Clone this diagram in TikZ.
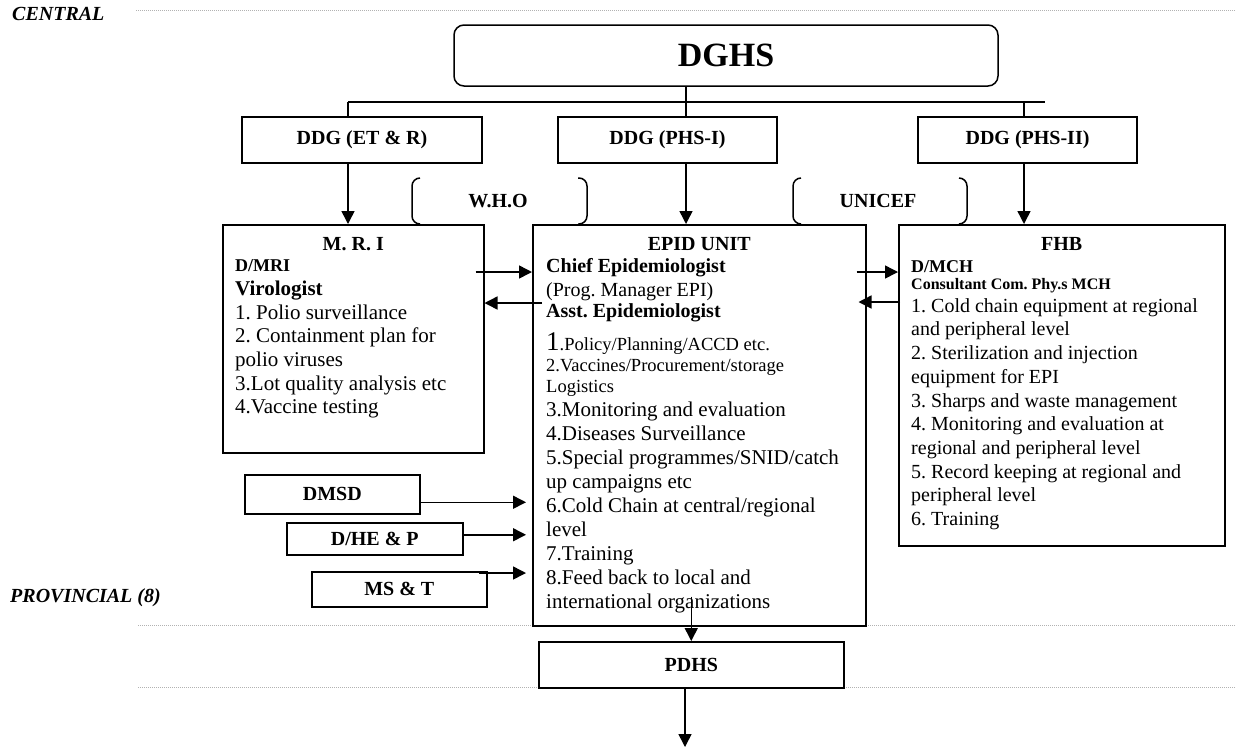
\documentclass[tikz,border=0pt]{standalone}
\usepackage{fontspec}
\setmainfont{Liberation Serif}
\frenchspacing
\usepackage{tikz}
\usetikzlibrary{positioning,arrows.meta,calc}
\tikzset{
    unit box/.style={rectangle, draw, line width=1.5pt, inner sep=0pt, font=\bfseries\fontsize{20}{24}\selectfont},
    top box/.style={unit box, rounded corners=10pt, font=\bfseries\fontsize{34}{40}\selectfont},
    panel/.style={rectangle, draw, line width=1.5pt, inner sep=0pt},
    unit label/.style={inner sep=0pt, font=\bfseries\fontsize{20}{24}\selectfont},
    item block/.style={inner sep=0pt, anchor=north west, align=left},
    level label/.style={inner sep=0pt, anchor=west, font=\bfseries\itshape\fontsize{20}{24}\selectfont},
    level line/.style={draw=gray!60, line width=0.8pt, dash pattern=on 0.8pt off 1.2pt},
    link line/.style={line width=1.5pt},
    bracket/.style={line width=1.5pt, rounded corners=8pt},
    flow arrow/.style={line width=1.5pt, -{Triangle[length=13pt,width=13pt]}}
}
\begin{document}
\begin{tikzpicture}[x=1pt,y=-1pt]
\useasboundingbox (0,0) rectangle (1236,748);

% levels
\draw[level line] (136,10) -- (1236,10);
\draw[level line] (138,625) -- (1236,625);
\draw[level line] (138,687) -- (1236,687);
\node[level label] (central) at (12,14) {CENTRAL};
\node[level label] (provincial) at (10,598) {PROVINCIAL (8)};

% top
\node[top box, minimum width=544pt, minimum height=61pt] (dghs) at (726,55.5) {DGHS};
\node[unit box, minimum width=240pt, minimum height=46pt] (ddgetr) at (362,140) {DDG (ET \& R)};
\node[unit box, minimum width=219pt, minimum height=46pt] (ddgphsone) at (667.5,140) {DDG (PHS-I)};
\node[unit box, minimum width=219pt, minimum height=46pt] (ddgphstwo) at (1027.5,140) {DDG (PHS-II)};

\coordinate (busleft) at (348,102);
\coordinate (busright) at (1045,102);
\coordinate (trunk) at (686,102);
\coordinate (rightdrop) at (1024,102);
\draw[link line] (busleft) -- (busright);
\draw[link line] (busleft) -- (ddgetr.north -| busleft);
\draw[link line] (dghs.south -| trunk) -- (ddgphsone.north -| trunk);
\draw[link line] (rightdrop) -- (ddgphstwo.north -| rightdrop);

% units
\node[panel, minimum width=261pt, minimum height=228pt, anchor=north west] (mri) at (222,224) {};
\node[panel, minimum width=333pt, minimum height=401pt, anchor=north west] (epid) at (532,224) {};
\node[panel, minimum width=326pt, minimum height=321pt, anchor=north west] (fhb) at (898,224) {};

\draw[flow arrow] (ddgetr.south -| busleft) -- (mri.north -| busleft);
\draw[flow arrow] (ddgphsone.south -| trunk) -- (epid.north -| trunk);
\draw[flow arrow] (ddgphstwo.south -| rightdrop) -- (fhb.north -| rightdrop);

% partners
\node[unit label] (who) at (498,201) {W.H.O};
\draw[bracket] (420,178) -- (412,178) -- (412,224) -- (420,224);
\draw[bracket] (578,178) -- (587,178) -- (587,224) -- (578,224);
\node[unit label] (unicef) at (878,201) {UNICEF};
\draw[bracket] (801,178) -- (793,178) -- (793,224) -- (801,224);
\draw[bracket] (959,178) -- (967,178) -- (967,224) -- (959,224);

% M.R.I
\node[unit label, below=13pt of mri.north] (mrititle) {M. R. I};
\node[item block, font=\fontsize{21}{23.7}\selectfont] (mrilist) at (235,259.6) {%
{\bfseries\fontsize{18}{23.7}\selectfont D/MRI}\\
{\bfseries Virologist}\\
1. Polio surveillance\\
2. Containment plan for\\
polio viruses\\
3.Lot quality analysis etc\\
4.Vaccine testing};

% EPID unit
\node[unit label, below=13pt of epid.north] (epidtitle) {EPID UNIT};
\node[item block, font=\fontsize{21}{24}\selectfont] (epidlist) at (546,258) {%
{\bfseries\fontsize{20}{24}\selectfont Chief Epidemiologist}\\
{\fontsize{20}{24}\selectfont (Prog. Manager EPI)}\\[-2.4pt]
{\bfseries\fontsize{20}{24}\selectfont Asst. Epidemiologist}\\[8.4pt]
{\fontsize{27}{24}\selectfont 1}{\fontsize{18.5}{24}\selectfont .Policy/Planning/ACCD etc.}\\[-3pt]
{\fontsize{18.5}{24}\selectfont 2.Vaccines/Procurement/storage}\\[-2.5pt]
{\fontsize{18.5}{24}\selectfont Logistics}\\
3.Monitoring and evaluation\\
4.Diseases Surveillance\\
5.Special programmes/SNID/catch\\
up campaigns etc\\
6.Cold Chain at central/regional\\
level\\
7.Training\\
8.Feed back to local and\\
international organizations};

% FHB
\node[unit label, below=13pt of fhb.north] (fhbtitle) {FHB};
\node[item block, font=\fontsize{20}{23.7}\selectfont] (fhblist) at (911,260) {%
{\bfseries\fontsize{18}{23.7}\selectfont D/MCH}\\[-6.2pt]
{\bfseries\fontsize{16}{23.7}\selectfont Consultant Com. Phy.s MCH}\\[-1.1pt]
1. Cold chain equipment at regional\\
and peripheral level\\
2. Sterilization and injection\\
equipment for EPI\\
3. Sharps and waste management\\
4. Monitoring and evaluation at\\
regional and peripheral level\\
5. Record keeping at regional and\\
peripheral level\\
6. Training};

% exchanges between units
\draw[flow arrow] ($(mri.north east)+(-9,48)$) -- ($(epid.north west)+(0,48)$);
\draw[flow arrow] ($(epid.north west)+(10,79)$) -- ($(mri.north east)+(0,79)$);
\draw[flow arrow] ($(epid.north east)+(-10,48)$) -- ($(fhb.north west)+(0,48)$);
\draw[flow arrow] ($(fhb.north west)+(2,78)$) -- ($(epid.north east)+(-8,78)$);

% directorates feeding the EPID unit
\node[unit box, minimum width=175pt, minimum height=39pt, anchor=north west] (dmsd) at (244,474) {DMSD};
\node[unit box, minimum width=176pt, minimum height=32pt, anchor=north west] (dhep) at (286,522) {D/HE \& P};
\node[unit box, minimum width=175pt, minimum height=35pt, anchor=north west] (mst) at (311,571) {MS \& T};
\draw[flow arrow] ($(dmsd.east)+(0,8)$) -- ($(epid.west |- dmsd.east)+(-6,8)$);
\draw[flow arrow] ($(dhep.east)+(0,-4)$) -- ($(epid.west |- dhep.east)+(-6,-4)$);
\draw[flow arrow] ($(mst.north east)+(-9,2)$) -- ($(epid.west |- mst.north east)+(-6,2)$);

% provincial
\node[unit box, minimum width=305pt, minimum height=46pt, anchor=north west] (pdhs) at (538,641) {PDHS};
\draw[flow arrow] ($(epid.south -| pdhs.north)+(0,-30)$) -- (pdhs.north);
\coordinate (nextlevel) at (685,747);
\draw[flow arrow] (pdhs.south -| nextlevel) -- (nextlevel);
\end{tikzpicture}
\end{document}
